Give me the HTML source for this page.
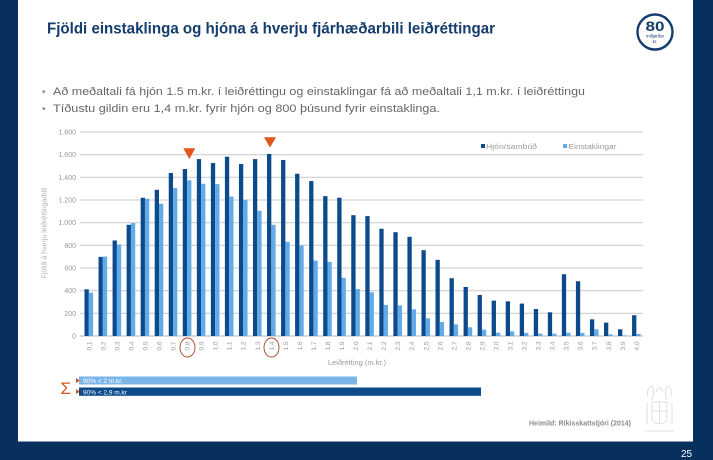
<!DOCTYPE html>
<html>
<head>
<meta charset="utf-8">
<style>
html,body{margin:0;padding:0;background:#07305f;}
svg{display:block;}
text{font-family:"Liberation Sans",sans-serif;}
</style>
</head>
<body>
<svg width="713" height="460" viewBox="0 0 713 460" xmlns="http://www.w3.org/2000/svg">
<rect x="0" y="0" width="713" height="460" fill="#07305f"/>
<rect x="18" y="0" width="675" height="441" fill="#ffffff"/>
<line x1="18" y1="441.5" x2="693" y2="441.5" stroke="#8a9bb0" stroke-width="1"/>

<!-- Title -->
<text x="47" y="33.5" font-size="16" font-weight="bold" fill="#143d6d" textLength="448" lengthAdjust="spacingAndGlyphs">Fjöldi einstaklinga og hjóna á hverju fjárhæðarbili leiðréttingar</text>

<!-- Badge -->
<circle cx="655.5" cy="33.5" r="18" fill="#d8dde4"/>
<circle cx="655" cy="32" r="17.5" fill="#ffffff" stroke="#143d6d" stroke-width="2.4"/>
<text x="655" y="31" font-size="14" font-weight="bold" fill="#143d6d" text-anchor="middle" textLength="19" lengthAdjust="spacingAndGlyphs">80</text>
<text x="655" y="37.5" font-size="4.5" fill="#143d6d" text-anchor="middle">milljarðar</text>
<text x="655" y="43" font-size="4.5" fill="#143d6d" text-anchor="middle">kr.</text>

<!-- Bullets -->
<text x="42" y="95" font-size="10" fill="#888">•</text>
<text x="53" y="95" font-size="11" fill="#666" textLength="532" lengthAdjust="spacingAndGlyphs">Að meðaltali fá hjón 1.5 m.kr. í leiðréttingu og einstaklingar fá að meðaltali 1,1 m.kr. í leiðréttingu</text>
<text x="42" y="112" font-size="10" fill="#888">•</text>
<text x="53" y="112" font-size="11" fill="#666" textLength="387" lengthAdjust="spacingAndGlyphs">Tíðustu gildin eru 1,4 m.kr. fyrir hjón og 800 þúsund fyrir einstaklinga.</text>

<!-- Gridlines -->
<g stroke="#c9c9c9" stroke-width="1">
<line x1="80" y1="132" x2="643" y2="132"/>
<line x1="80" y1="154.7" x2="643" y2="154.7"/>
<line x1="80" y1="177.3" x2="643" y2="177.3"/>
<line x1="80" y1="200" x2="643" y2="200"/>
<line x1="80" y1="222.7" x2="643" y2="222.7"/>
<line x1="80" y1="245.3" x2="643" y2="245.3"/>
<line x1="80" y1="268" x2="643" y2="268"/>
<line x1="80" y1="290.7" x2="643" y2="290.7"/>
<line x1="80" y1="313.3" x2="643" y2="313.3"/>
<line x1="80" y1="336" x2="643" y2="336" stroke="#b5b5b5"/>
</g>

<!-- Y labels -->
<g font-size="7" fill="#9a9a9a" text-anchor="end">
<text x="76" y="134.5">1.800</text>
<text x="76" y="157.2">1.600</text>
<text x="76" y="179.8">1.400</text>
<text x="76" y="202.5">1.200</text>
<text x="76" y="225.2">1.000</text>
<text x="76" y="247.8">800</text>
<text x="76" y="270.5">600</text>
<text x="76" y="293.2">400</text>
<text x="76" y="315.8">200</text>
<text x="76" y="338.5">0</text>
</g>
<text transform="translate(46.5,233) rotate(-90)" font-size="7" fill="#b0b0b0" text-anchor="middle">Fjöldi á hverju leiðréttingarbili</text>

<!-- Dark bars -->
<g fill="#0c4a8c">
<rect x="84.5" y="289.31" width="4.3" height="46.69"/>
<rect x="98.54" y="256.89" width="4.3" height="79.11"/>
<rect x="112.58" y="240.46" width="4.3" height="95.54"/>
<rect x="126.62" y="224.82" width="4.3" height="111.18"/>
<rect x="140.66" y="197.73" width="4.3" height="138.27"/>
<rect x="154.70" y="189.80" width="4.3" height="146.20"/>
<rect x="168.74" y="173.03" width="4.3" height="162.97"/>
<rect x="182.78" y="169.06" width="4.3" height="166.94"/>
<rect x="196.82" y="159.09" width="4.3" height="176.91"/>
<rect x="210.86" y="163.05" width="4.3" height="172.95"/>
<rect x="224.90" y="156.71" width="4.3" height="179.29"/>
<rect x="238.94" y="164.07" width="4.3" height="171.93"/>
<rect x="252.98" y="159.09" width="4.3" height="176.91"/>
<rect x="267.02" y="153.99" width="4.3" height="182.01"/>
<rect x="281.06" y="159.99" width="4.3" height="176.01"/>
<rect x="295.10" y="173.71" width="4.3" height="162.29"/>
<rect x="309.14" y="181.07" width="4.3" height="154.93"/>
<rect x="323.18" y="196.15" width="4.3" height="139.85"/>
<rect x="337.22" y="197.73" width="4.3" height="138.27"/>
<rect x="351.26" y="215.19" width="4.3" height="120.81"/>
<rect x="365.30" y="216.09" width="4.3" height="119.91"/>
<rect x="379.34" y="228.79" width="4.3" height="107.21"/>
<rect x="393.38" y="232.19" width="4.3" height="103.81"/>
<rect x="407.42" y="236.83" width="4.3" height="99.17"/>
<rect x="421.46" y="250.21" width="4.3" height="85.79"/>
<rect x="435.50" y="259.84" width="4.3" height="76.16"/>
<rect x="449.54" y="278.20" width="4.3" height="57.80"/>
<rect x="463.58" y="286.93" width="4.3" height="49.07"/>
<rect x="477.62" y="294.97" width="4.3" height="41.03"/>
<rect x="491.66" y="300.64" width="4.3" height="35.36"/>
<rect x="505.70" y="301.32" width="4.3" height="34.68"/>
<rect x="519.74" y="303.59" width="4.3" height="32.41"/>
<rect x="533.78" y="309.03" width="4.3" height="26.97"/>
<rect x="547.82" y="312.31" width="4.3" height="23.69"/>
<rect x="561.86" y="274.23" width="4.3" height="61.77"/>
<rect x="575.90" y="281.26" width="4.3" height="54.74"/>
<rect x="589.94" y="319.34" width="4.3" height="16.66"/>
<rect x="603.98" y="322.63" width="4.3" height="13.37"/>
<rect x="618.02" y="329.31" width="4.3" height="6.69"/>
<rect x="632.06" y="315.26" width="4.3" height="20.74"/>
</g>

<!-- Light bars -->
<g fill="#63abe8">
<rect x="88.8" y="292.59" width="4.3" height="43.41"/>
<rect x="102.84" y="256.55" width="4.3" height="79.45"/>
<rect x="116.88" y="244.54" width="4.3" height="91.46"/>
<rect x="130.92" y="223.12" width="4.3" height="112.88"/>
<rect x="144.96" y="198.75" width="4.3" height="137.25"/>
<rect x="159.00" y="203.74" width="4.3" height="132.26"/>
<rect x="173.04" y="188.10" width="4.3" height="147.90"/>
<rect x="187.08" y="180.39" width="4.3" height="155.61"/>
<rect x="201.12" y="183.79" width="4.3" height="152.21"/>
<rect x="215.16" y="184.13" width="4.3" height="151.87"/>
<rect x="229.20" y="196.49" width="4.3" height="139.51"/>
<rect x="243.24" y="199.77" width="4.3" height="136.23"/>
<rect x="257.28" y="210.77" width="4.3" height="125.23"/>
<rect x="271.32" y="224.82" width="4.3" height="111.18"/>
<rect x="285.36" y="241.82" width="4.3" height="94.18"/>
<rect x="299.40" y="245.56" width="4.3" height="90.44"/>
<rect x="313.44" y="260.52" width="4.3" height="75.48"/>
<rect x="327.48" y="261.88" width="4.3" height="74.12"/>
<rect x="341.52" y="277.86" width="4.3" height="58.14"/>
<rect x="355.56" y="288.97" width="4.3" height="47.03"/>
<rect x="369.60" y="292.25" width="4.3" height="43.75"/>
<rect x="383.64" y="304.95" width="4.3" height="31.05"/>
<rect x="397.68" y="305.29" width="4.3" height="30.71"/>
<rect x="411.72" y="309.25" width="4.3" height="26.75"/>
<rect x="425.76" y="318.32" width="4.3" height="17.68"/>
<rect x="439.80" y="321.95" width="4.3" height="14.05"/>
<rect x="453.84" y="324.33" width="4.3" height="11.67"/>
<rect x="467.88" y="327.27" width="4.3" height="8.73"/>
<rect x="481.92" y="329.65" width="4.3" height="6.35"/>
<rect x="495.96" y="332.71" width="4.3" height="3.29"/>
<rect x="510.00" y="331.35" width="4.3" height="4.65"/>
<rect x="524.04" y="332.94" width="4.3" height="3.06"/>
<rect x="538.08" y="333.62" width="4.3" height="2.38"/>
<rect x="552.12" y="333.62" width="4.3" height="2.38"/>
<rect x="566.16" y="332.71" width="4.3" height="3.29"/>
<rect x="580.20" y="332.94" width="4.3" height="3.06"/>
<rect x="594.24" y="329.31" width="4.3" height="6.69"/>
<rect x="608.28" y="334.30" width="4.3" height="1.70"/>
<rect x="622.32" y="335.32" width="4.3" height="0.68"/>
<rect x="636.36" y="333.96" width="4.3" height="2.04"/>
</g>

<!-- X labels -->
<g font-size="6.5" fill="#9a9a9a" text-anchor="end">
<text transform="translate(91.3,341.5) rotate(-90)">0,1</text>
<text transform="translate(105.34,341.5) rotate(-90)">0,2</text>
<text transform="translate(119.38,341.5) rotate(-90)">0,3</text>
<text transform="translate(133.42,341.5) rotate(-90)">0,4</text>
<text transform="translate(147.46,341.5) rotate(-90)">0,5</text>
<text transform="translate(161.50,341.5) rotate(-90)">0,6</text>
<text transform="translate(175.54,341.5) rotate(-90)">0,7</text>
<text transform="translate(189.58,341.5) rotate(-90)">0,8</text>
<text transform="translate(203.62,341.5) rotate(-90)">0,9</text>
<text transform="translate(217.66,341.5) rotate(-90)">1,0</text>
<text transform="translate(231.70,341.5) rotate(-90)">1,1</text>
<text transform="translate(245.74,341.5) rotate(-90)">1,2</text>
<text transform="translate(259.78,341.5) rotate(-90)">1,3</text>
<text transform="translate(273.82,341.5) rotate(-90)">1,4</text>
<text transform="translate(287.86,341.5) rotate(-90)">1,5</text>
<text transform="translate(301.90,341.5) rotate(-90)">1,6</text>
<text transform="translate(315.94,341.5) rotate(-90)">1,7</text>
<text transform="translate(329.98,341.5) rotate(-90)">1,8</text>
<text transform="translate(344.02,341.5) rotate(-90)">1,9</text>
<text transform="translate(358.06,341.5) rotate(-90)">2,0</text>
<text transform="translate(372.10,341.5) rotate(-90)">2,1</text>
<text transform="translate(386.14,341.5) rotate(-90)">2,2</text>
<text transform="translate(400.18,341.5) rotate(-90)">2,3</text>
<text transform="translate(414.22,341.5) rotate(-90)">2,4</text>
<text transform="translate(428.26,341.5) rotate(-90)">2,5</text>
<text transform="translate(442.30,341.5) rotate(-90)">2,6</text>
<text transform="translate(456.34,341.5) rotate(-90)">2,7</text>
<text transform="translate(470.38,341.5) rotate(-90)">2,8</text>
<text transform="translate(484.42,341.5) rotate(-90)">2,9</text>
<text transform="translate(498.46,341.5) rotate(-90)">3,0</text>
<text transform="translate(512.50,341.5) rotate(-90)">3,1</text>
<text transform="translate(526.54,341.5) rotate(-90)">3,2</text>
<text transform="translate(540.58,341.5) rotate(-90)">3,3</text>
<text transform="translate(554.62,341.5) rotate(-90)">3,4</text>
<text transform="translate(568.66,341.5) rotate(-90)">3,5</text>
<text transform="translate(582.70,341.5) rotate(-90)">3,6</text>
<text transform="translate(596.74,341.5) rotate(-90)">3,7</text>
<text transform="translate(610.78,341.5) rotate(-90)">3,8</text>
<text transform="translate(624.82,341.5) rotate(-90)">3,9</text>
<text transform="translate(638.86,341.5) rotate(-90)">4,0</text>
</g>

<!-- Highlight ellipses -->
<ellipse cx="187.5" cy="347.5" rx="7.5" ry="9.5" fill="none" stroke="#a8401c" stroke-width="0.9"/>
<ellipse cx="271.5" cy="347.5" rx="7.5" ry="9.5" fill="none" stroke="#a8401c" stroke-width="0.9"/>

<!-- Orange triangles -->
<polygon points="183.3,148.3 195.3,148.3 189.3,159" fill="#e0561b"/>
<polygon points="264,137.3 276,137.3 270,147.5" fill="#e0561b"/>

<!-- Legend -->
<rect x="481" y="144" width="4" height="4" fill="#0c4a8c"/>
<text x="486" y="149" font-size="7.5" fill="#9a9a9a" textLength="51" lengthAdjust="spacingAndGlyphs">Hjón/sambúð</text>
<rect x="563" y="144" width="4" height="4" fill="#63abe8"/>
<text x="568.5" y="149" font-size="7.5" fill="#9a9a9a" textLength="48" lengthAdjust="spacingAndGlyphs">Einstaklingar</text>

<!-- X axis title -->
<text x="357" y="365" font-size="7.5" fill="#9a9a9a" text-anchor="middle">Leiðrétting (m.kr.)</text>

<!-- Summary bars -->
<text x="60.5" y="394" font-size="17" fill="#d9531e">Σ</text>
<polygon points="76,378 80,380.5 76,383" fill="#d9531e"/>
<polygon points="76,389 80,391.5 76,394" fill="#d9531e"/>
<rect x="79" y="376.5" width="278" height="8" fill="#7ab5ea"/>
<text x="83" y="383" font-size="6.5" fill="#ffffff">90% &lt; 2 m.kr.</text>
<rect x="79" y="387.5" width="402" height="8.3" fill="#0d4a8a"/>
<text x="83" y="394.3" font-size="6.5" fill="#ffffff">90%  &lt; 2,9 m.kr</text>

<!-- Source -->
<text x="529" y="425.5" font-size="7" font-weight="bold" fill="#8a8a8a" textLength="102" lengthAdjust="spacingAndGlyphs">Heimild: Ríkisskattstjóri (2014)</text>

<!-- Crest (faint) -->
<g fill="none" stroke="#d9d9d9" stroke-width="0.8">
<path d="M652,402 L667,402 L667,420 Q659.5,428 652,420 Z"/>
<line x1="659.5" y1="402" x2="659.5" y2="424"/>
<line x1="652" y1="411" x2="667" y2="411"/>
<path d="M648,396 Q646,388 652,386 Q655,392 652,400"/>
<path d="M671,396 Q673,388 667,386 Q664,392 667,400"/>
<path d="M656,392 Q659.5,384 663,392"/>
<path d="M647,402 L647,424 M672,402 L672,424"/>
<line x1="645" y1="431" x2="674" y2="431"/>
</g>

<!-- Page number -->
<text x="681" y="457" font-size="10" fill="#ffffff">25</text>
</svg>
</body>
</html>
